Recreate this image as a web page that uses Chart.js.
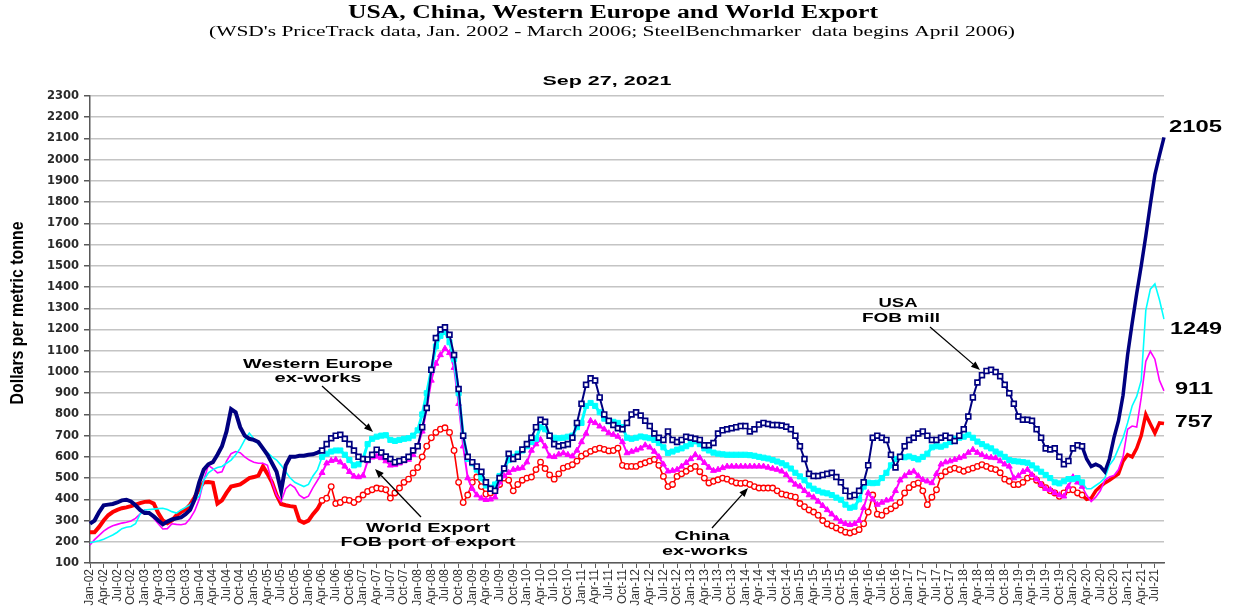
<!DOCTYPE html>
<html>
<head>
<meta charset="utf-8">
<script src="https://cdn.jsdelivr.net/npm/chart.js@4.4.1/dist/chart.umd.min.js"></script>
<style>
  html, body { margin: 0; padding: 0; background: #ffffff; }
  #wrap { width: 1246px; height: 607px; position: relative; }
  canvas { display: block; }
</style>
</head>
<body>
<div id="wrap"><canvas id="c" width="1246" height="607"></canvas></div>
<script>
// ---------- DATA (monthly, Jan-02 .. Sep-21) ----------
const monthNames = ['Jan','Feb','Mar','Apr','May','Jun','Jul','Aug','Sep','Oct','Nov','Dec'];
const firstYear = 2002, lastYear = 2021, lastMonth = 9;

const usaFobMill = [
  285, 300, 340, 372, 375, 378, 385, 395, 398, 390, 372, 350,   // 2002
  335, 335, 320, 300, 282, 295, 305, 310, 315, 330, 350, 400,   // 2003
  480, 540, 565, 575, 610, 650, 720, 825, 810, 740, 700, 685,   // 2004
  680, 670, 640, 610, 570, 530, 440, 560, 600, 600, 605, 605,   // 2005
  610, 612, 620, 630, 660, 688, 700, 704, 685, 660, 630, 600,   // 2006
  590, 588, 610, 634, 620, 602, 590, 575, 580, 587, 600, 630,   // 2007
  650, 740, 830, 1010, 1160, 1200, 1210, 1175, 1080, 920, 700, 600, // 2008
  575, 555, 530, 480, 450, 440, 500, 545, 615, 590, 600, 635,   // 2009
  660, 690, 740, 775, 765, 700, 660, 650, 655, 660, 690, 760,   // 2010
  850, 940, 970, 960, 880, 800, 770, 750, 735, 730, 760, 800,   // 2011
  810, 795, 770, 745, 710, 690, 680, 720, 680, 670, 680, 695,   // 2012
  690, 685, 680, 655, 655, 665, 710, 725, 730, 735, 740, 745,   // 2013
  745, 720, 730, 752, 760, 755, 750, 750, 748, 742, 730, 700,   // 2014
  650, 590, 520, 510, 510, 515, 520, 525, 505, 480, 440, 415,   // 2015
  420, 440, 480, 560, 690, 700, 690, 680, 610, 550, 600, 650,   // 2016
  680, 690, 710, 720, 700, 680, 680, 690, 700, 690, 675, 700,   // 2017
  730, 790, 880, 950, 985, 1005, 1010, 1000, 980, 940, 900, 850, // 2018
  790, 775, 775, 770, 730, 690, 640, 635, 640, 600, 565, 580,   // 2019
  640, 655, 650, 590, 555, 565, 555, 530, 590, 690, 770, 890,   // 2020
  1080, 1230, 1370, 1500, 1640, 1790, 1930, 2020, 2105          // 2021
];

const westernEurope = [
  195, 200, 205, 212, 222, 232, 245, 262, 268, 272, 285, 330,   // 2002
  350, 352, 354, 356, 358, 352, 342, 335, 350, 362, 375, 395,   // 2003
  415, 490, 525, 540, 550, 555, 570, 585, 610, 640, 680, 712,   // 2004
  685, 660, 640, 620, 600, 585, 560, 530, 500, 480, 470, 460,   // 2005
  470, 510, 540, 600, 615, 625, 630, 630, 610, 585, 560, 565,   // 2006
  590, 660, 685, 695, 700, 702, 680, 675, 680, 685, 688, 700,   // 2007
  725, 800, 900, 1010, 1120, 1170, 1190, 1140, 1060, 900, 700, 590, // 2008
  570, 540, 500, 465, 455, 470, 510, 545, 585, 600, 615, 630,   // 2009
  650, 670, 685, 740, 730, 700, 690, 688, 690, 695, 700, 740,   // 2010
  760, 840, 854, 840, 810, 780, 767, 765, 760, 740, 690, 685,   // 2011
  690, 696, 692, 688, 680, 665, 645, 618, 625, 634, 640, 650,   // 2012
  660, 673, 660, 640, 630, 620, 615, 612, 610, 610, 610, 610,   // 2013
  610, 608, 605, 600, 596, 592, 585, 578, 570, 560, 545, 525,   // 2014
  508, 490, 465, 450, 440, 432, 428, 420, 408, 398, 375, 360,   // 2015
  365, 400, 460, 478, 476, 478, 500, 525, 560, 590, 600, 598,   // 2016
  602, 595, 588, 600, 615, 645, 650, 648, 655, 670, 685, 690,   // 2017
  695, 704, 690, 672, 660, 649, 640, 625, 615, 600, 585, 580,   // 2018
  578, 575, 572, 560, 545, 530, 515, 500, 480, 475, 485, 495,   // 2019
  495, 500, 480, 450, 450, 465, 480, 500, 560, 590, 640, 690,   // 2020
  760, 840, 885, 960, 1290, 1390, 1415, 1340, 1249              // 2021
];

const worldExport = [
  185, 210, 230, 250, 265, 275, 282, 288, 292, 298, 310, 330,   // 2002
  350, 335, 310, 285, 260, 262, 285, 282, 280, 285, 310, 345,   // 2003
  400, 490, 560, 545, 525, 530, 580, 615, 625, 620, 600, 585,   // 2004
  575, 570, 570, 560, 480, 420, 390, 450, 470, 455, 420, 405,   // 2005
  415, 455, 490, 525, 570, 582, 587, 575, 555, 530, 508, 505,   // 2006
  512, 580, 598, 602, 595, 580, 560, 562, 570, 580, 587, 610,   // 2007
  650, 720, 830, 960, 1040, 1080, 1110, 1090, 1020, 850, 650, 500, // 2008
  450, 420, 405, 398, 400, 410, 480, 510, 525, 540, 545, 548,   // 2009
  575, 630, 660, 681, 650, 603, 600, 612, 618, 610, 603, 630,   // 2010
  670, 710, 770, 760, 744, 730, 712, 705, 696, 670, 618, 625,   // 2011
  632, 640, 655, 645, 625, 600, 565, 532, 535, 540, 555, 572,   // 2012
  590, 610, 595, 572, 550, 535, 540, 548, 555, 555, 555, 555,   // 2013
  555, 555, 555, 555, 555, 550, 545, 540, 532, 515, 490, 470,   // 2014
  461, 440, 420, 410, 390, 370, 350, 330, 310, 295, 285, 280,   // 2015
  285, 300, 360, 430, 400, 375, 385, 395, 400, 440, 490, 510,   // 2016
  525, 532, 510, 492, 485, 477, 520, 565, 575, 580, 587, 595,   // 2017
  602, 620, 634, 620, 610, 600, 597, 595, 580, 565, 555, 500,   // 2018
  510, 530, 540, 515, 495, 470, 450, 445, 430, 420, 414, 460,   // 2019
  505, 480, 460, 420, 390, 410, 440, 490, 505, 512, 540, 600,   // 2020
  730, 745, 740, 880, 1050, 1097, 1060, 960, 911                // 2021
];

const chinaExWorks = [
  245, 245, 270, 300, 325, 340, 350, 358, 362, 368, 375, 382,   // 2002
  388, 390, 380, 335, 300, 288, 300, 325, 340, 352, 375, 410,   // 2003
  450, 480, 482, 478, 380, 395, 430, 460, 465, 470, 485, 500,   // 2004
  505, 512, 555, 520, 480, 420, 378, 372, 368, 365, 300, 290,   // 2005
  300, 330, 355, 395, 405, 460, 380, 385, 398, 395, 385, 400,   // 2006
  420, 437, 445, 453, 450, 445, 406, 430, 453, 480, 495, 524,   // 2007
  550, 600, 650, 690, 715, 730, 737, 715, 630, 480, 385, 420,   // 2008
  480, 505, 460, 425, 430, 450, 470, 500, 490, 440, 470, 490,   // 2009
  500, 505, 540, 575, 545, 515, 495, 520, 547, 555, 563, 580,   // 2010
  603, 615, 626, 635, 641, 635, 628, 630, 641, 560, 555, 555,   // 2011
  555, 565, 572, 580, 588, 560, 508, 460, 470, 508, 520, 532,   // 2012
  545, 555, 530, 500, 477, 485, 492, 500, 495, 485, 477, 475,   // 2013
  477, 470, 460, 453, 453, 453, 453, 440, 425, 420, 415, 410,   // 2014
  380, 365, 350, 340, 325, 300, 284, 275, 265, 255, 245, 241,   // 2015
  248, 257, 285, 340, 420, 330, 325, 345, 355, 370, 385, 430,   // 2016
  455, 470, 477, 440, 375, 410, 445, 510, 530, 540, 547, 540,   // 2017
  532, 540, 547, 555, 563, 555, 545, 540, 525, 495, 485, 469,   // 2018
  470, 480, 500, 508, 490, 470, 455, 440, 430, 414, 430, 445,   // 2019
  445, 430, 420, 400, 405, 440, 460, 477, 490, 505, 520, 580,   // 2020
  610, 600, 640, 700, 800, 755, 712, 760, 757                   // 2021
];

const yTicks = { min: 100, max: 2300, step: 100 };
const endLabels = ['2105', '1249', '911', '757'];

// category labels
const categories = [];
for (let y = firstYear; y <= lastYear; y++) {
  const mEnd = (y === lastYear) ? lastMonth : 12;
  for (let m = 0; m < mEnd; m++) categories.push(monthNames[m] + '-' + String(y).slice(2));
}

// marker segment: SteelBenchmarker data (Apr-06) until early 2020
const MARK_START = categories.indexOf('Apr-06');
const MARK_END = categories.indexOf('Mar-20');

function segWidth(early, mid, late) {
  return (ctx) => ctx.p0DataIndex < MARK_START ? early : (ctx.p0DataIndex < MARK_END ? mid : late);
}
function markRadius(r) {
  return (ctx) => (ctx.dataIndex >= MARK_START && ctx.dataIndex <= MARK_END) ? r : 0;
}

// ---------- annotation plugin ----------
function stretchText(ctx, text, x, baseline, targetW, font, align) {
  ctx.save();
  ctx.font = font;
  const w = ctx.measureText(text).width;
  const s = targetW / w;
  ctx.translate(x, baseline);
  ctx.scale(s, 1);
  ctx.textAlign = align || 'center';
  ctx.textBaseline = 'alphabetic';
  ctx.fillStyle = '#000';
  ctx.fillText(text, 0, 0);
  ctx.restore();
}
function arrow(ctx, x1, y1, x2, y2) {
  ctx.save();
  ctx.strokeStyle = '#000'; ctx.fillStyle = '#000'; ctx.lineWidth = 1.3;
  const a = Math.atan2(y2 - y1, x2 - x1);
  const hl = 9, hw = 3.5;
  ctx.beginPath(); ctx.moveTo(x1, y1); ctx.lineTo(x2 - hl * Math.cos(a), y2 - hl * Math.sin(a)); ctx.stroke();
  ctx.beginPath();
  ctx.moveTo(x2, y2);
  ctx.lineTo(x2 - hl * Math.cos(a) + hw * Math.sin(a), y2 - hl * Math.sin(a) - hw * Math.cos(a));
  ctx.lineTo(x2 - hl * Math.cos(a) - hw * Math.sin(a), y2 - hl * Math.sin(a) + hw * Math.cos(a));
  ctx.closePath(); ctx.fill();
  ctx.restore();
}

const annotations = {
  id: 'annotations',
  afterDraw(chart) {
    const ctx = chart.ctx;
    const serifB = 'bold 18px "Liberation Serif", "Times New Roman", serif';
    const serif = '14px "Liberation Serif", "Times New Roman", serif';
    const sansB = 'bold 13px "Liberation Sans", Arial, sans-serif';
    const sansB16 = 'bold 16px "Liberation Sans", Arial, sans-serif';

    stretchText(ctx, 'USA, China, Western Europe and World Export', 613, 18, 530, serifB);
    stretchText(ctx, "(WSD's PriceTrack data, Jan. 2002 - March 2006; SteelBenchmarker  data begins April 2006)", 612, 36, 806, serif);
    stretchText(ctx, 'Sep 27, 2021', 607, 85, 129, sansB);

    // y-axis title
    ctx.save();
    ctx.font = 'bold 14px "Liberation Sans Narrow", "Liberation Sans", Arial, sans-serif';
    const tw = ctx.measureText('Dollars per metric tonne').width;
    ctx.translate(18, 313);
    ctx.rotate(-Math.PI / 2);
    ctx.scale(183 / tw, 1.25);
    ctx.textAlign = 'center'; ctx.textBaseline = 'middle'; ctx.fillStyle = '#000';
    ctx.fillText('Dollars per metric tonne', 0, 0);
    ctx.restore();

    // series callouts
    stretchText(ctx, 'Western Europe', 318, 368, 150, sansB);
    stretchText(ctx, 'ex-works', 318, 382, 87, sansB);
    arrow(ctx, 322, 386, 373, 432);

    stretchText(ctx, 'World Export', 428, 532, 124, sansB);
    stretchText(ctx, 'FOB port of export', 428, 546, 175, sansB);
    arrow(ctx, 421, 517, 375, 469);

    stretchText(ctx, 'China', 702, 540, 55, sansB);
    stretchText(ctx, 'ex-works', 705, 555, 86, sansB);
    arrow(ctx, 712, 528, 748, 488);

    stretchText(ctx, 'USA', 898, 307, 39, sansB);
    stretchText(ctx, 'FOB mill', 901, 322, 78, sansB);
    arrow(ctx, 930, 327, 980, 370);

    // end values
    stretchText(ctx, endLabels[0], 1169, 132, 53, sansB16, 'left');
    stretchText(ctx, endLabels[1], 1170, 334, 52, sansB16, 'left');
    stretchText(ctx, endLabels[2], 1175, 394, 38, sansB16, 'left');
    stretchText(ctx, endLabels[3], 1175, 427, 38, sansB16, 'left');
  }
};

// ---------- chart ----------
new Chart(document.getElementById('c'), {
  type: 'line',
  data: {
    labels: categories,
    datasets: [
      {
        label: 'USA FOB mill',
        data: usaFobMill,
        borderColor: '#000080',
        backgroundColor: '#ffffff',
        borderWidth: 4,
        segment: { borderWidth: segWidth(4, 2, 3.5) },
        pointStyle: 'rect',
        pointRadius: markRadius(3.4),
        pointBorderWidth: 1.7,
        pointBorderColor: '#000080',
        pointBackgroundColor: '#ffffff',
        pointHoverRadius: 0,
        tension: 0
      },
      {
        label: 'Western Europe ex-works',
        data: westernEurope,
        borderColor: '#00ffff',
        backgroundColor: '#00ffff',
        borderWidth: 1.6,
        segment: { borderWidth: segWidth(1.6, 3, 1.6) },
        pointStyle: 'rect',
        pointRadius: markRadius(3.6),
        pointBorderWidth: 1,
        pointBorderColor: '#00ffff',
        pointBackgroundColor: '#00ffff',
        pointHoverRadius: 0,
        tension: 0
      },
      {
        label: 'World Export FOB port of export',
        data: worldExport,
        borderColor: '#ff00ff',
        backgroundColor: '#ff00ff',
        borderWidth: 1.6,
        segment: { borderWidth: segWidth(1.6, 2, 1.6) },
        pointStyle: 'triangle',
        pointRadius: markRadius(3.4),
        pointBorderWidth: 1,
        pointBorderColor: '#ff00ff',
        pointBackgroundColor: '#ff00ff',
        pointHoverRadius: 0,
        tension: 0
      },
      {
        label: 'China ex-works',
        data: chinaExWorks,
        borderColor: '#ff0000',
        backgroundColor: '#ffffff',
        borderWidth: 4,
        segment: { borderWidth: segWidth(4, 1.6, 3.5) },
        pointStyle: 'circle',
        pointRadius: markRadius(2.8),
        pointBorderWidth: 1.3,
        pointBorderColor: '#ff0000',
        pointBackgroundColor: '#ffffff',
        pointHoverRadius: 0,
        tension: 0
      }
    ]
  },
  options: {
    responsive: false,
    animation: false,
    events: [],
    layout: { padding: { top: 96, right: 82, bottom: 0, left: 0 } },
    plugins: { legend: { display: false }, tooltip: { enabled: false }, title: { display: false } },
    scales: {
      x: {
        type: 'category',
        offset: false,
        afterFit(scale) { scale.height = 44; },
        grid: { drawOnChartArea: false, drawTicks: true, tickLength: 5, tickColor: '#595959', lineWidth: 1 },
        border: { display: true, color: '#595959', width: 1.5 },
        ticks: {
          autoSkip: false,
          maxRotation: 90,
          minRotation: 90,
          padding: 1,
          color: '#333333',
          font: { family: '"Liberation Sans", Arial, sans-serif', size: 12 },
          callback(value, index) { return index % 3 === 0 ? categories[index] : null; }
        }
      },
      y: {
        min: yTicks.min,
        max: yTicks.max,
        afterFit(scale) { scale.width = 90; },
        grid: { color: '#c4c4c4', lineWidth: 1.5, tickLength: 6, tickColor: '#595959', drawTicks: true },
        border: { display: true, color: '#595959', width: 1.5 },
        ticks: {
          stepSize: yTicks.step,
          padding: 5,
          color: '#2a2a2a',
          font: { family: '"DejaVu Sans", Verdana, sans-serif', size: 11.5, weight: 'bold' },
          callback(value) { return String(value); }
        }
      }
    }
  },
  plugins: [annotations]
});
</script>
</body>
</html>
